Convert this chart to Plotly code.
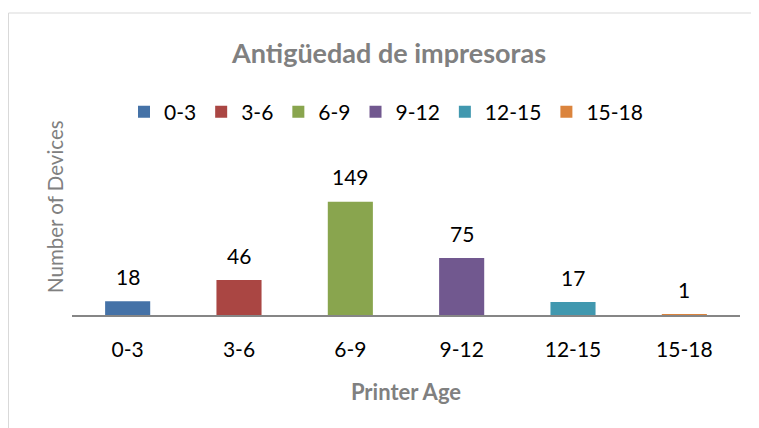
import plotly.graph_objects as go

categories = ["0-3", "3-6", "6-9", "9-12", "12-15", "15-18"]
devices = [18, 46, 149, 75, 17, 1]
colors = ["#4572A7", "#AA4643", "#89A54E", "#71588F", "#4198AF", "#DB843D"]

FONT = "Lato, 'Open Sans', sans-serif"

# figure sits 8px inside the page, so sizes/coords are in figure pixels
W, H = 751, 420
L, R, T, B = 64, 19, 155, 113
pw, ph = W - L - R, H - T - B


def px_x(p):
    return (p - L) / pw


def px_y(p):
    return (H - B - p) / ph


fig = go.Figure()
for cat, val, col in zip(categories, devices, colors):
    fig.add_trace(go.Bar(
        x=[cat], y=[val], name=cat, marker=dict(color=col, line=dict(width=0)),
        width=0.405,
    ))
    fig.add_annotation(x=cat, y=val, text=str(val), showarrow=False,
                       yshift=25, font=dict(family=FONT, size=21, color="#000000"))

fig.add_shape(type="rect", xref="paper", yref="paper",
              x0=px_x(0.5), x1=px_x(770), y0=px_y(5), y1=px_y(440),
              line=dict(color="#D9D9D9", width=1), fillcolor="rgba(0,0,0,0)", layer="below")

fig.add_annotation(xref="paper", yref="paper", x=px_x(47), y=px_y(199),
                   xanchor="center", yanchor="middle",
                   text="Number of Devices", textangle=-90, showarrow=False,
                   font=dict(family=FONT, size=20.5, color="#808080"))

fig.update_layout(
    width=W, height=H,
    margin=dict(l=L, r=R, t=T, b=B),
    paper_bgcolor="white", plot_bgcolor="white",
    barmode="overlay",
    title=dict(text="<b>Antigüedad de impresoras</b>", xref="container", x=381 / W, xanchor="center",
               yref="container", y=1 - 46 / H, yanchor="middle",
               font=dict(family=FONT, size=27, color="#808080")),
    legend=dict(orientation="h", x=px_x(378), xanchor="center", y=px_y(104), yanchor="middle",
                font=dict(family=FONT, size=21, color="#000000"),
                itemwidth=30, tracegroupgap=0),
    showlegend=True,
    xaxis=dict(
        categoryorder="array", categoryarray=categories,
        showline=True, linecolor="#868686", linewidth=2,
        showgrid=False, ticks="", ticklabelstandoff=15,
        tickfont=dict(family=FONT, size=21, color="#000000"),
        title=dict(text="<b>Printer Age</b>", standoff=24,
                   font=dict(family=FONT, size=22, color="#808080")),
    ),
    yaxis=dict(range=[0, 200], showline=False, showgrid=False, zeroline=False,
               showticklabels=False, ticks=""),
)

fig.write_html("out.html")
